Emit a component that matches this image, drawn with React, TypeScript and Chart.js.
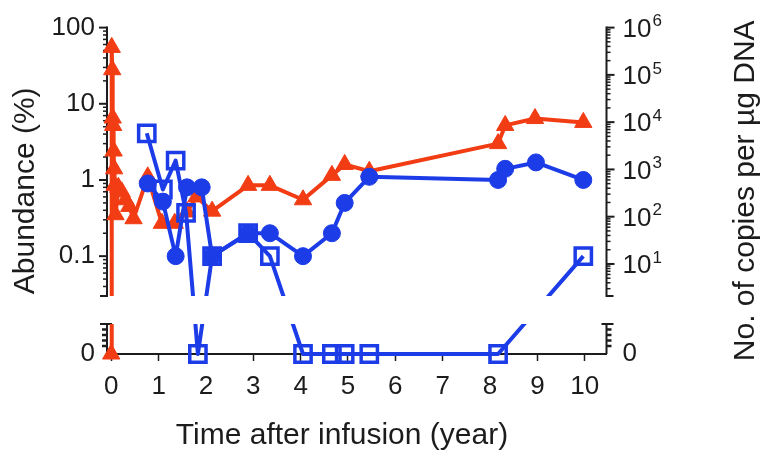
import React, { useEffect, useRef } from 'react';
import { Chart, registerables, LogarithmicScale } from 'chart.js';

Chart.register(...registerables);

// ---------- data (time in years, abundance in %) ----------
const RED_T = [0, 0.01, 0.02, 0.03, 0.04, 0.05, 0.06, 0.07, 0.09, 0.15, 0.22, 0.3, 0.38, 0.47, 0.77, 1.07, 1.34, 1.6, 1.8, 2.13, 2.89, 3.35, 4.05, 4.66, 4.93, 5.45, 8.17, 8.32, 8.95, 9.97];
const RED_V = [0, 55, 28, 6.5, 5.2, 2.4, 1.4, 0.85, 0.35, 0.8, 0.7, 0.55, 0.45, 0.31, 1.1, 0.27, 0.27, 0.38, 0.6, 0.39, 0.85, 0.85, 0.55, 1.15, 1.6, 1.3, 3.0, 5.2, 6.4, 5.7];

const CIRC_T = [0.77, 1.09, 1.36, 1.6, 1.91, 2.13, 2.89, 3.35, 4.05, 4.66, 4.93, 5.45, 8.17, 8.32, 8.97, 9.97];
const CIRC_V = [0.9, 0.52, 0.1, 0.8, 0.8, 0.1, 0.2, 0.2, 0.1, 0.2, 0.5, 1.1, 1.0, 1.4, 1.7, 1.0];

const SQ_T = [0.75, 1.09, 1.36, 1.58, 1.83, 2.13, 2.89, 3.35, 4.05, 4.66, 4.93, 5.45, 8.17, 9.97];
const SQ_V = [4.1, 0.75, 1.8, 0.37, 0, 0.1, 0.2, 0.1, 0, 0, 0, 0, 0, 0.1];

const X_TICKS = [0, 1, 2, 3, 4, 5, 6, 7, 8, 9, 10];
const LEFT_TICKS = [0, 0.1, 1, 10, 100];
const LEFT_LABELS = ['0', '0.1', '1', '10', '100'];
const RIGHT_EXPONENTS = [1, 2, 3, 4, 5, 6];

const X_TITLE = 'Time after infusion (year)';
const RIGHT_TITLE = 'No. of copies per µg DNA';

const RED = '#f23c14';
const BLUE = '#1c3ce8';
const AXIS = '#1c1c1c';
const FONT = "'Liberation Sans', Arial, Helvetica, sans-serif";

// ---------- broken logarithmic scale: log part on top, a separate "0" band below ----------
class BrokenLogScale extends LogarithmicScale {
  static id = 'brokenLog';
  static defaults = { ...(LogarithmicScale as any).defaults };
  parse(raw: any, index: number) {
    if (raw === 0) return 0;
    return (super.parse as any)(raw, index);
  }
  breakGeom() {
    const o: any = this.options;
    const lower = o.breakLower ?? 30;
    const gap = o.breakGap ?? 28;
    const zeroPx = this.bottom;
    const lowerTop = zeroPx - lower;
    const upperBottom = lowerTop - gap;
    return { zeroPx, lowerTop, upperBottom };
  }
  getPixelForValue(value: any) {
    if (value === null || value === undefined || isNaN(value)) return NaN;
    const { zeroPx, upperBottom } = this.breakGeom();
    if (value <= 0) return zeroPx;
    const lmin = Math.log10(this.min);
    const lmax = Math.log10(this.max);
    const dec = (Math.log10(value) - lmin) / (lmax - lmin);
    return upperBottom - dec * (upperBottom - this.top);
  }
  getValueForPixel(pixel: number) {
    const { upperBottom } = this.breakGeom();
    if (pixel > upperBottom) return 0;
    const lmin = Math.log10(this.min);
    const lmax = Math.log10(this.max);
    const dec = (upperBottom - pixel) / (upperBottom - this.top);
    return Math.pow(10, lmin + dec * (lmax - lmin));
  }
}
Chart.register(BrokenLogScale as any);

function seg(ctx: CanvasRenderingContext2D, x1: number, y1: number, x2: number, y2: number) {
  ctx.beginPath();
  ctx.moveTo(x1, y1);
  ctx.lineTo(x2, y2);
  ctx.stroke();
}

function drawBrokenAxis(ctx: CanvasRenderingContext2D, scale: any, x: number, dir: number, majors: number[]) {
  const { zeroPx, lowerTop, upperBottom } = scale.breakGeom();
  ctx.save();
  ctx.strokeStyle = AXIS;
  ctx.lineWidth = 2;
  ctx.lineCap = 'butt';
  seg(ctx, x, scale.top - 1, x, upperBottom + 1);
  for (const v of majors) {
    const y = scale.getPixelForValue(v);
    seg(ctx, x, y, x + dir * 8, y);
  }
  ctx.lineWidth = 1.5;
  const e0 = Math.floor(Math.log10(scale.min));
  const e1 = Math.ceil(Math.log10(scale.max));
  for (let e = e0; e < e1; e++) {
    for (let k = 2; k <= 9; k++) {
      const v = k * Math.pow(10, e);
      if (v > scale.min && v < scale.max) {
        const y = scale.getPixelForValue(v);
        seg(ctx, x, y, x + dir * 4, y);
      }
    }
  }
  ctx.lineWidth = 2;
  seg(ctx, x, upperBottom, x + dir * 7, upperBottom);
  // lower "0" band
  seg(ctx, x, lowerTop, x, zeroPx);
  seg(ctx, x + dir * 7, lowerTop, x - dir * 5, lowerTop);
  ctx.lineWidth = 2.5;
  for (let i = 1; i <= 4; i++) {
    const y = lowerTop + 5.5 * i;
    seg(ctx, x, y, x + dir * 5, y);
  }
  ctx.restore();
}

const brokenAxesPlugin = {
  id: 'brokenAxes',
  beforeDatasetsDraw(chart: any) {
    const ctx: CanvasRenderingContext2D = chart.ctx;
    const yl = chart.scales.y;
    const yr = chart.scales.y2;
    const { left, right } = chart.chartArea;
    drawBrokenAxis(ctx, yl, left, -1, LEFT_TICKS.filter((v) => v > 0));
    drawBrokenAxis(ctx, yr, right, 1, RIGHT_EXPONENTS.map((e) => Math.pow(10, e)));
    const { lowerTop, upperBottom } = yl.breakGeom();
    ctx.save();
    ctx.beginPath();
    ctx.rect(0, 0, chart.width, upperBottom);
    ctx.rect(0, lowerTop, chart.width, chart.height - lowerTop);
    ctx.clip();
  },
  afterDatasetsDraw(chart: any) {
    const ctx: CanvasRenderingContext2D = chart.ctx;
    ctx.restore();
    const yr = chart.scales.y2;
    const { right, top, bottom } = chart.chartArea;
    const x0 = right + 16;
    ctx.save();
    ctx.fillStyle = AXIS;
    ctx.textAlign = 'left';
    ctx.textBaseline = 'middle';
    for (const e of RIGHT_EXPONENTS) {
      const y = yr.getPixelForValue(Math.pow(10, e));
      ctx.font = `26px ${FONT}`;
      ctx.fillText('10', x0, y + 2);
      const w = ctx.measureText('10').width;
      ctx.font = `17px ${FONT}`;
      ctx.fillText(String(e), x0 + w + 1, y - 6);
    }
    ctx.font = `26px ${FONT}`;
    ctx.fillText('0', x0, yr.getPixelForValue(0));
    // x axis title
    ctx.textAlign = 'center';
    ctx.font = `30px ${FONT}`;
    ctx.fillText(X_TITLE, 342, 436);
    // right axis title (reads bottom to top)
    ctx.translate(746, (top + bottom) / 2);
    ctx.rotate(-Math.PI / 2);
    ctx.fillText(RIGHT_TITLE, 0, 0);
    ctx.restore();
  },
};

const pts = (t: number[], v: number[]) => t.map((x, i) => ({ x, y: v[i] }));

export default function App() {
  const ref = useRef<HTMLCanvasElement>(null);
  useEffect(() => {
    const chart = new Chart(ref.current as HTMLCanvasElement, {
      type: 'line',
      data: {
        datasets: [
          {
            label: 'squares',
            data: pts(SQ_T, SQ_V),
            order: 0,
            borderColor: BLUE,
            borderWidth: 4,
            pointStyle: 'rect',
            pointRadius: 11.5,
            pointBorderWidth: 3.5,
            pointBorderColor: BLUE,
            pointBackgroundColor: 'rgba(0,0,0,0)',
            clip: false,
          } as any,
          {
            label: 'circles',
            data: pts(CIRC_T, CIRC_V),
            order: 1,
            borderColor: BLUE,
            borderWidth: 4,
            pointStyle: 'circle',
            pointRadius: 8.5,
            pointBorderWidth: 1,
            pointBorderColor: BLUE,
            pointBackgroundColor: BLUE,
            clip: false,
          } as any,
          {
            label: 'triangles',
            data: pts(RED_T, RED_V),
            order: 2,
            borderColor: RED,
            borderWidth: 4,
            pointStyle: 'triangle',
            pointRadius: 10,
            pointBorderWidth: 1,
            pointBorderColor: RED,
            pointBackgroundColor: RED,
            clip: false,
          } as any,
        ],
      },
      options: {
        animation: false,
        responsive: false,
        devicePixelRatio: 1,
        events: [],
        layout: { padding: { top: 22, left: 0, right: 0, bottom: 0 } },
        elements: { line: { tension: 0, borderJoinStyle: 'round' } },
        plugins: { legend: { display: false }, tooltip: { enabled: false }, title: { display: false } },
        scales: {
          x: {
            type: 'linear',
            min: -0.09,
            max: 10.46,
            afterBuildTicks: (s: any) => { s.ticks = X_TICKS.map((v) => ({ value: v })); },
            afterFit: (s: any) => { s.height = 98; },
            grid: { display: true, drawOnChartArea: false, drawTicks: true, tickLength: 7, tickColor: AXIS, tickWidth: 1.5 },
            border: { display: true, color: AXIS, width: 2 },
            ticks: { color: AXIS, font: { family: FONT, size: 26 }, padding: 10, autoSkip: false, maxRotation: 0 },
            title: { display: false },
          },
          y: {
            type: 'brokenLog' as any,
            position: 'left',
            min: 0.03,
            max: 100,
            breakLower: 30,
            breakGap: 28,
            afterBuildTicks: (s: any) => { s.ticks = LEFT_TICKS.map((v) => ({ value: v })); },
            afterFit: (s: any) => { s.width = 107; },
            grid: { display: false, drawTicks: false },
            border: { display: false },
            ticks: {
              color: AXIS,
              font: { family: FONT, size: 26 },
              padding: 12,
              autoSkip: false,
              callback: (v: any) => LEFT_LABELS[LEFT_TICKS.indexOf(Number(v))] ?? '',
            },
            title: { display: true, text: 'Abundance (%)', color: AXIS, font: { family: FONT, size: 30, lineHeight: 1.2 }, padding: { top: 8, bottom: 0 } },
          } as any,
          y2: {
            type: 'brokenLog' as any,
            position: 'right',
            min: 2.1,
            max: 1e6,
            breakLower: 30,
            breakGap: 28,
            afterBuildTicks: (s: any) => { s.ticks = [0, ...RIGHT_EXPONENTS.map((e) => Math.pow(10, e))].map((v) => ({ value: v })); },
            afterFit: (s: any) => { s.width = 158.5; },
            grid: { display: false, drawTicks: false },
            border: { display: false },
            ticks: { display: false },
          } as any,
        },
      } as any,
      plugins: [brokenAxesPlugin as any],
    });
    return () => chart.destroy();
  }, []);
  return (
    <div style={{ position: 'absolute', left: 0, top: 0, width: 765, height: 452, background: '#fff' }}>
      <canvas ref={ref} width={765} height={452} style={{ width: 765, height: 452, display: 'block' }} />
    </div>
  );
}
